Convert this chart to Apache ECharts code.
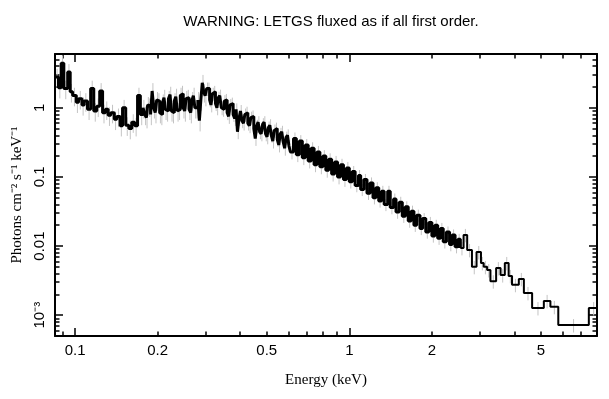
<!DOCTYPE html>
<html lang="en">
<head>
<meta charset="UTF-8">
<title>LETGS spectrum</title>
<script src="https://cdn.jsdelivr.net/npm/echarts@6/dist/echarts.min.js"></script>
</head>
<body style="margin:0">
<div id="main" style="width:609px;height:399px;"></div>
<script>
// bin low edges (keV) and flux (photons cm^-2 s^-1 keV^-1)
var binLo = [
  0.085, 0.087, 0.089, 0.091, 0.094, 0.096, 0.098, 0.101, 0.103, 0.106,
  0.108, 0.111, 0.114, 0.117, 0.120, 0.123, 0.126, 0.129, 0.132, 0.135,
  0.139, 0.142, 0.146, 0.149, 0.153, 0.157, 0.161, 0.165, 0.169, 0.173,
  0.177, 0.1795, 0.182, 0.184, 0.186, 0.1885, 0.191, 0.1935,
  0.196, 0.1985, 0.201, 0.2035, 0.206, 0.2085, 0.211, 0.2135,
  0.216, 0.219, 0.222, 0.2245, 0.227, 0.230, 0.233, 0.236,
  0.239, 0.242, 0.245, 0.248, 0.251, 0.254, 0.257, 0.2605,
  0.264, 0.267, 0.270, 0.2735, 0.277, 0.2805, 0.284, 0.2875,
  0.291, 0.2945, 0.298, 0.302, 0.306, 0.3095, 0.313, 0.317,
  0.321, 0.325, 0.329, 0.333, 0.337, 0.3415, 0.346, 0.350,
  0.354, 0.3585, 0.363, 0.3675, 0.372, 0.377, 0.382, 0.3865,
  0.391, 0.396, 0.401, 0.406, 0.411, 0.416, 0.421, 0.4265,
  0.432, 0.4375, 0.443, 0.4485, 0.454, 0.4595, 0.465, 0.471,
  0.477, 0.483, 0.489, 0.495, 0.501, 0.507, 0.513, 0.5195,
  0.526, 0.5325, 0.539, 0.546, 0.553, 0.560, 0.567, 0.574,
  0.581, 0.588, 0.595, 0.6025,
  0.610, 0.626, 0.641, 0.657, 0.674, 0.691, 0.708, 0.726, 0.744, 0.762,
  0.781, 0.801, 0.821, 0.841, 0.862, 0.884, 0.906, 0.929, 0.952, 0.976,
  1.00, 1.025, 1.05, 1.08, 1.10, 1.13, 1.16, 1.19, 1.22, 1.25,
  1.28, 1.31, 1.34, 1.38, 1.41, 1.45, 1.48, 1.52, 1.56, 1.60,
  1.64, 1.68, 1.72, 1.76, 1.81, 1.85, 1.90, 1.95, 2.00, 2.05,
  2.10, 2.15, 2.20, 2.26, 2.32, 2.37, 2.43, 2.49,
  2.54, 2.61, 2.69, 2.80, 2.91, 3.02, 3.09, 3.18, 3.27, 3.43,
  3.56, 3.69, 3.81, 3.92, 4.15, 4.33, 4.64, 5.12, 5.41, 5.78, 7.47
];
var lastEdge = 8.1;
var flux = [
  2.8, 1.95, 4.4, 1.9, 3.3, 1.7, 1.5, 1.2, 1.35, 1.1,
  1.25, 0.95, 1.9, 0.9, 1.05, 1.75, 0.85, 0.95, 0.78, 0.85,
  0.68, 0.75, 0.55, 1.0, 0.56, 0.5, 0.62, 0.55, 1.5, 0.8,
  1.0, 0.8, 0.72, 1.1, 1.05, 0.8, 1.75, 1.0,
  0.85, 1.3, 1.25, 0.85, 0.8, 1.2, 1.4, 0.95,
  0.9, 1.35, 1.55, 0.9, 0.85, 1.25, 1.45, 0.9,
  0.95, 1.5, 1.6, 1.0, 0.9, 1.35, 1.4, 0.95,
  0.85, 1.3, 1.5, 1.0, 1.0, 1.3, 0.65, 1.3,
  2.3, 1.7, 1.5, 1.9, 1.9, 1.3, 1.1, 1.6,
  1.7, 1.15, 1.0, 1.4, 1.5, 1.0, 0.95, 1.25,
  1.3, 0.85, 0.75, 1.1, 1.15, 0.8, 0.7, 0.95,
  0.45, 0.7, 0.9, 0.65, 0.6, 0.8, 0.85, 0.6,
  0.55, 0.72, 0.75, 0.5, 0.36, 0.55, 0.62, 0.45,
  0.42, 0.58, 0.62, 0.42, 0.38, 0.52, 0.56, 0.4,
  0.33, 0.47, 0.5, 0.35, 0.29, 0.42, 0.45, 0.32,
  0.26, 0.37, 0.4, 0.28,
  0.23, 0.36, 0.21, 0.33, 0.19, 0.29, 0.17, 0.26, 0.15, 0.23,
  0.14, 0.2, 0.125, 0.18, 0.11, 0.165, 0.1, 0.15, 0.092, 0.135,
  0.085, 0.12, 0.075, 0.105, 0.066, 0.092, 0.058, 0.082, 0.05, 0.07,
  0.045, 0.062, 0.04, 0.062, 0.036, 0.048, 0.031, 0.043, 0.027, 0.037,
  0.023, 0.032, 0.02, 0.028, 0.018, 0.025, 0.016, 0.022, 0.014, 0.02,
  0.013, 0.018, 0.0115, 0.016, 0.0105, 0.0145, 0.0098, 0.0125,
  0.0094, 0.0145, 0.0088, 0.005, 0.0082, 0.0057, 0.005, 0.0045, 0.0031, 0.0048,
  0.0038, 0.0057, 0.0037, 0.00275, 0.00335, 0.0021, 0.00127, 0.00161, 0.00132, 0.00072, 0.00127
];
// relative error, per energy range [from keV, fraction]
var relErr = [[0.085, 0.3], [0.3, 0.22], [1.0, 0.2], [2.5, 0.22]];
// where the fine binning ends (keV)
var fineEnd = 2.54;

var xLabelVals = [0.1, 0.2, 0.5, 1, 2, 5];
var xLabels = ['0.1', '0.2', '0.5', '1', '2', '5'];
var xMajor = [0.1, 1];
var xMinor = [0.09, 0.2, 0.3, 0.4, 0.5, 0.6, 0.7, 0.8, 0.9, 2, 3, 4, 5, 6, 7, 8];
var yLabelVals = [0.001, 0.01, 0.1, 1];
var yLabels = ['10\u207b\u00b3', '0.01', '0.1', '1'];
var yMajor = [0.001, 0.01, 0.1, 1];
var yMinor = [0.0006, 0.0007, 0.0008, 0.0009,
  0.002, 0.003, 0.004, 0.005, 0.006, 0.007, 0.008, 0.009,
  0.02, 0.03, 0.04, 0.05, 0.06, 0.07, 0.08, 0.09,
  0.2, 0.3, 0.4, 0.5, 0.6, 0.7, 0.8, 0.9, 2, 3, 4, 5, 6];

var xMin = 0.0845, xMax = 8.0, yMin = 0.0005, yMax = 6;

function pickLabel(vals, labels) {
  return function (v) {
    for (var i = 0; i < vals.length; i++) {
      if (Math.abs(Math.log10(v) - Math.log10(vals[i])) < 1e-6) return labels[i];
    }
    return '';
  };
}

var fineData = [];
var coarseData = [];
var errData = [];
for (var i = 0; i < binLo.length; i++) {
  if (binLo[i] < fineEnd) fineData.push([binLo[i], flux[i]]);
  else {
    if (coarseData.length === 0) fineData.push([binLo[i], flux[i]]);
    coarseData.push([binLo[i], flux[i]]);
  }
  var hi = i + 1 < binLo.length ? binLo[i + 1] : lastEdge;
  var f = 0;
  for (var k = 0; k < relErr.length; k++) if (binLo[i] >= relErr[k][0]) f = relErr[k][1];
  errData.push([Math.sqrt(binLo[i] * hi), flux[i] * (1 - f), flux[i] * (1 + f)]);
}
coarseData.push([lastEdge, flux[flux.length - 1]]);

var black = {color: '#000', width: 2};

function xAx(pos, ticks, len, line, labels) {
  return {
    type: 'log', position: pos, min: xMin, max: xMax,
    axisLine: {show: line, lineStyle: black},
    axisTick: {show: true, inside: true, length: len, customValues: ticks, lineStyle: {color: '#000', width: 1.5}},
    axisLabel: labels ? {
      customValues: xLabelVals, formatter: pickLabel(xLabelVals, xLabels),
      color: '#000', fontSize: 15, fontFamily: 'Liberation Sans', margin: 7
    } : {show: false},
    splitLine: {show: false}
  };
}
function yAx(pos, ticks, len, line, labels) {
  return {
    type: 'log', position: pos, min: yMin, max: yMax,
    axisLine: {show: line, lineStyle: black},
    axisTick: {show: true, inside: true, length: len, customValues: ticks, lineStyle: {color: '#000', width: 1.5}},
    axisLabel: labels ? {
      customValues: yLabelVals, formatter: pickLabel(yLabelVals, yLabels),
      rotate: 90, color: '#000', fontSize: 15, fontFamily: 'Liberation Sans', margin: 8
    } : {show: false},
    splitLine: {show: false}
  };
}

var xBottom = xAx('bottom', xMajor, 8, true, true);
xBottom.name = 'Energy (keV)';
xBottom.nameLocation = 'middle';
xBottom.nameGap = 37;
xBottom.nameTextStyle = {fontFamily: 'Liberation Serif', fontSize: 15, color: '#000'};
var yLeft = yAx('left', yMajor, 8, true, true);
yLeft.name = 'Photons cm\u207b\u00b2 s\u207b\u00b9 keV\u207b\u00b9';
yLeft.nameLocation = 'middle';
yLeft.nameGap = 27;
yLeft.nameTextStyle = {fontFamily: 'Liberation Serif', fontSize: 15, color: '#000'};

var myChart = echarts.init(document.getElementById('main'));
var option = {
  animation: false,
  backgroundColor: '#fff',
  title: {
    text: 'WARNING: LETGS fluxed as if all first order.',
    left: 326, top: 9, textAlign: 'center',
    textStyle: {fontFamily: 'Liberation Sans', fontSize: 15, fontWeight: 'normal', color: '#000'}
  },
  grid: {left: 55, right: 12, top: 54, bottom: 63},
  xAxis: [
    xBottom,
    xAx('bottom', xMinor, 4.5, false, false),
    xAx('top', xMajor, 8, true, false),
    xAx('top', xMinor, 4.5, false, false)
  ],
  yAxis: [
    yLeft,
    yAx('left', yMinor, 4.5, false, false),
    yAx('right', yMajor, 8, true, false),
    yAx('right', yMinor, 4.5, false, false)
  ],
  series: [
    {
      type: 'custom',
      data: errData,
      encode: {x: 0, y: [1, 2]},
      renderItem: function (params, api) {
        var a = api.coord([api.value(0), api.value(1)]);
        var b = api.coord([api.value(0), api.value(2)]);
        return {type: 'line', shape: {x1: a[0], y1: a[1], x2: b[0], y2: b[1]},
          style: {stroke: '#c4c4c4', lineWidth: 1}};
      },
      clip: true,
      z: 1
    },
    {
      type: 'line',
      data: fineData,
      step: 'end',
      symbol: 'none',
      lineStyle: {color: '#000', width: 3},
      clip: true,
      z: 2
    },
    {
      type: 'line',
      data: coarseData,
      step: 'end',
      symbol: 'none',
      lineStyle: {color: '#000', width: 2},
      clip: true,
      z: 2
    }
  ]
};
myChart.setOption(option);
</script>
</body>
</html>
